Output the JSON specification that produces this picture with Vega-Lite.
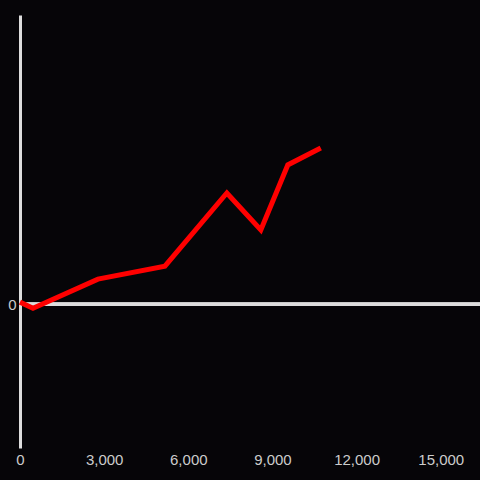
{
  "$schema": "https://vega.github.io/schema/vega-lite/v6.json",
  "autosize": {"type": "none"},
  "width": 460,
  "height": 433,
  "padding": {"left": 20, "top": 15, "right": 0, "bottom": 32},
  "background": "#060508",
  "config": {
    "view": {"stroke": null},
    "font": "Liberation Sans"
  },
  "data": {
    "values": [
      {"x": 0, "y": 1.4},
      {"x": 463, "y": -2.8},
      {"x": 2779, "y": 17.3},
      {"x": 5166, "y": 26.3},
      {"x": 7375, "y": 76.9},
      {"x": 8586, "y": 51.3},
      {"x": 9548, "y": 96.3},
      {"x": 10723, "y": 108}
    ]
  },
  "layer": [
    {
      "mark": {"type": "rule", "color": "#dddddd", "strokeWidth": 3},
      "encoding": {"y": {"datum": 0, "type": "quantitative"}}
    },
    {
      "mark": {"type": "line", "color": "#ff0000", "strokeWidth": 5, "strokeJoin": "miter", "strokeCap": "butt"},
      "encoding": {
        "x": {
          "field": "x", "type": "quantitative",
          "scale": {"domain": [0, 16400], "nice": false, "zero": false},
          "axis": {"title": null, "values": [0, 3000, 6000, 9000, 12000, 15000], "format": ",d", "domain": false, "ticks": false, "grid": false, "labelColor": "#cccccc", "labelFontSize": 15, "labelPadding": 4, "labelFlush": false}
        },
        "y": {
          "field": "y", "type": "quantitative",
          "scale": {"domain": [-99.5, 200], "nice": false, "zero": false},
          "axis": {"title": null, "values": [0], "domain": true, "domainColor": "#dddddd", "domainWidth": 3, "ticks": false, "grid": false, "labelColor": "#cccccc", "labelFontSize": 15, "labelPadding": 4}
        }
      }
    }
  ]
}
